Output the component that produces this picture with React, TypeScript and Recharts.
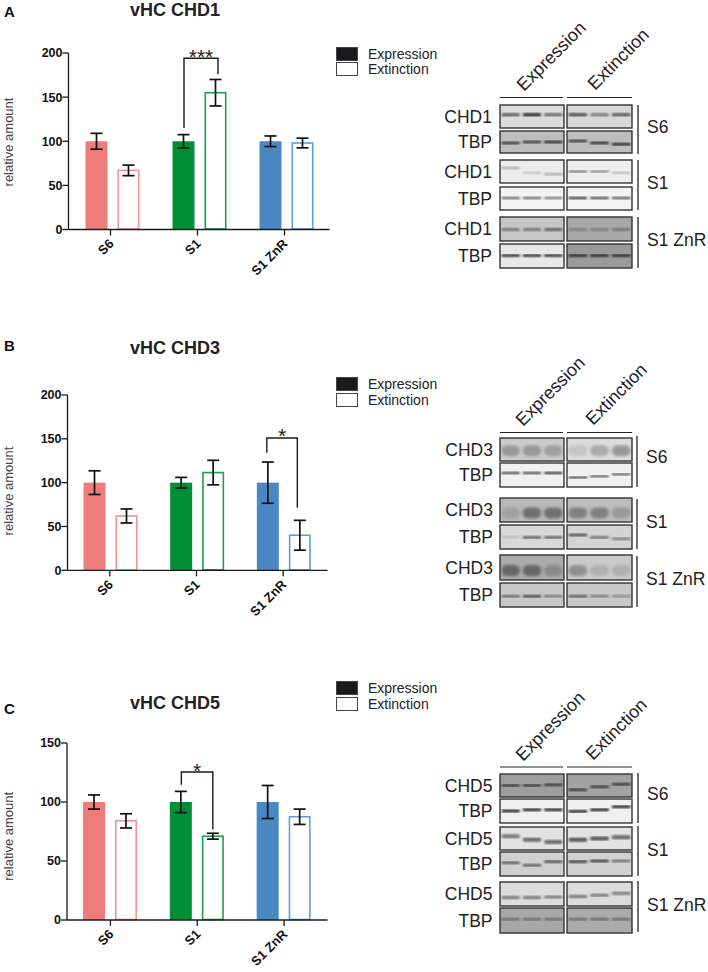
import React from 'react';
import { BarChart, Bar, XAxis, YAxis, ErrorBar, Legend } from 'recharts';

const categories = ['S6', 'S1', 'S1 ZnR'];
const seriesNames = ['Expression', 'Extinction'];

const chd1Expression = [100, 100, 100];
const chd1ExpressionErr = [9, 7.5, 6];
const chd1Extinction = [67, 155, 98];
const chd1ExtinctionErr = [6, 15, 5.5];

const chd3Expression = [100, 100, 100];
const chd3ExpressionErr = [13.5, 6, 23.5];
const chd3Extinction = [62, 111.5, 40];
const chd3ExtinctionErr = [8, 14, 17];

const chd5Expression = [100, 100, 100];
const chd5ExpressionErr = [6, 9, 14];
const chd5Extinction = [84, 71, 87.5];
const chd5ExtinctionErr = [6, 2.5, 6.5];

const ticks200 = [0, 50, 100, 150, 200];
const ticks150 = [0, 50, 100, 150];

const solidColors = ['#ee7c7b', '#008f37', '#4a88c4'];
const outlineColors = ['#ee9492', '#1f9e50', '#5f9fd5'];
const FONT = '"Liberation Sans", Arial, sans-serif';
const INK = '#1a1a1a';

// one bracket per chart: category, top of bracket, end of left leg, end of right leg
const panels = [
  {
    letter: 'A', title: 'vHC CHD1', letterY: 12, titleY: 10,
    expression: chd1Expression, expressionErr: chd1ExpressionErr,
    extinction: chd1Extinction, extinctionErr: chd1ExtinctionErr,
    max: 200, ticks: ticks200,
    plotTop: 53, plotHeight: 176.5, plotLeft: 68.5, plotRight: 329.5, tickShift: -1.5,
    labelY: 142, legendTop: 46,
    bracket: { index: 1, top: 194, left: 115, right: 176, stars: '***', legs: [0.5, 2.5] },
  },
  {
    letter: 'B', title: 'vHC CHD3', letterY: 346, titleY: 347.5,
    expression: chd3Expression, expressionErr: chd3ExpressionErr,
    extinction: chd3Extinction, extinctionErr: chd3ExtinctionErr,
    max: 200, ticks: ticks200,
    plotTop: 395, plotHeight: 175.3, plotLeft: 67.5, plotRight: 327.5, tickShift: -1,
    labelY: 491, legendTop: 376.5,
    bracket: { index: 2, top: 151, left: 134, right: 71.5, stars: '*', legs: [-1, -2.5] },
  },
  {
    letter: 'C', title: 'vHC CHD5', letterY: 709, titleY: 702.5,
    expression: chd5Expression, expressionErr: chd5ExpressionErr,
    extinction: chd5Extinction, extinctionErr: chd5ExtinctionErr,
    max: 150, ticks: ticks150,
    plotTop: 742.7, plotHeight: 177, plotLeft: 67, plotRight: 327.5, tickShift: 0,
    labelY: 836, legendTop: 680.5,
    bracket: { index: 1, top: 125.4, left: 114.7, right: 76.6, stars: '*', legs: [0.5, 0] },
  },
];

const CHART_WIDTH = 450;
const MARGIN_TOP = 70;
const X_AXIS_HEIGHT = 60;

function SolidBar(props: any) {
  const { x, y, width, height, index } = props;
  return <rect x={x} y={y} width={width} height={height} fill={solidColors[index]} />;
}

function makeHollowBar(panel: any) {
  return function HollowBar(props: any) {
    const { x, y, width, height, index, payload } = props;
    const b = panel.bracket;
    const base = y + height;
    const perUnit = height / payload.extinction;
    const rightX = x + width / 2 + b.legs[1];
    const leftX = x + width / 2 - 32 + b.legs[0];
    return (
      <g>
        <rect
          x={x + 0.8}
          y={y}
          width={width - 1.6}
          height={height - 0.5}
          fill="#fff"
          stroke={outlineColors[index]}
          strokeWidth={1.6}
        />
        {index === b.index && (
          <g>
            <path
              d={`M${leftX} ${base - b.left * perUnit}V${base - b.top * perUnit}H${rightX}V${base - b.right * perUnit}`}
              fill="none"
              stroke={INK}
              strokeWidth={1.4}
            />
            <text
              x={(leftX + rightX) / 2}
              y={base - b.top * perUnit + 5.5}
              textAnchor="middle"
              fontFamily={FONT}
              fontSize={21}
              fill="#222"
            >
              {b.stars}
            </text>
          </g>
        )}
      </g>
    );
  };
}

function CategoryTick(props: any) {
  const { x, y, payload, shift } = props;
  const tx = x + shift;
  return (
    <g>
      <line x1={tx} x2={tx} y1={y} y2={y + 6} stroke={INK} strokeWidth={1.3} />
      <text
        transform={`translate(${tx + 4} ${y + 15}) rotate(-45)`}
        textAnchor="end"
        fontFamily={FONT}
        fontWeight="bold"
        fontSize={13}
        fill="#111"
      >
        {payload.value}
      </text>
    </g>
  );
}

function LegendBox({ payload }: any) {
  return (
    <div style={{ fontFamily: FONT, fontSize: 14, color: '#222' }}>
      {(payload || []).map((entry: any, i: number) => (
        <div key={entry.value} style={{ display: 'flex', alignItems: 'center', height: 15.5 }}>
          <span
            style={{
              width: 22,
              height: 14,
              boxSizing: 'border-box',
              border: '1.3px solid #444',
              background: i === 0 ? '#1a1a1e' : '#fff',
              marginRight: 10,
            }}
          />
          <span>{entry.value}</span>
        </div>
      ))}
    </div>
  );
}

function PanelChart({ panel }: any) {
  const data = categories.map((category, i) => ({
    category,
    expression: panel.expression[i],
    expressionErr: panel.expressionErr[i],
    extinction: panel.extinction[i],
    extinctionErr: panel.extinctionErr[i],
  }));
  const top = panel.plotTop - MARGIN_TOP;
  const HollowBar = makeHollowBar(panel);
  return (
    <div style={{ position: 'absolute', left: 0, top }}>
      <BarChart
        width={CHART_WIDTH}
        height={MARGIN_TOP + panel.plotHeight + X_AXIS_HEIGHT}
        data={data}
        margin={{ top: MARGIN_TOP, right: CHART_WIDTH - panel.plotRight, bottom: 0, left: 0 }}
        barSize={22}
        barGap={10}
      >
        <XAxis
          dataKey="category"
          height={X_AXIS_HEIGHT}
          interval={0}
          tickSize={0}
          tickMargin={0}
          tickLine={false}
          axisLine={{ stroke: INK, strokeWidth: 1.3 }}
          tick={<CategoryTick shift={panel.tickShift} />}
        />
        <YAxis
          width={panel.plotLeft}
          domain={[0, panel.max]}
          ticks={panel.ticks}
          interval={0}
          tickSize={6}
          tickMargin={0}
          stroke={INK}
          strokeWidth={1.3}
          tick={{ fontFamily: FONT, fontWeight: 'bold', fontSize: 12.5, fill: '#111' }}
          label={{
            value: 'relative amount',
            angle: -90,
            position: 'center',
            dx: 8 - panel.plotLeft / 2,
            dy: panel.labelY - (panel.plotTop + panel.plotHeight / 2),
            style: { fontFamily: FONT, fontSize: 13, fill: '#444' },
          }}
        />
        <Legend
          layout="horizontal"
          verticalAlign="middle"
          align="center"
          content={<LegendBox />}
          wrapperStyle={{ left: 336, top: panel.legendTop - top, width: 110 }}
        />
        <Bar dataKey="expression" name={seriesNames[0]} fill="#1a1a1e" shape={SolidBar} isAnimationActive={false}>
          <ErrorBar dataKey="expressionErr" width={6} stroke="#111" strokeWidth={1.7} isAnimationActive={false} />
        </Bar>
        <Bar dataKey="extinction" name={seriesNames[1]} fill="#fff" shape={HollowBar} isAnimationActive={false}>
          <ErrorBar dataKey="extinctionErr" width={6} stroke="#111" strokeWidth={1.7} isAnimationActive={false} />
        </Bar>
      </BarChart>
    </div>
  );
}

// western blot strips: label, top, bottom, left bg, right bg, band colours, band level, band thickness
type BlotRow = [string, number, number, string, string, string[], number | number[], number];

const blotA: BlotRow[] = [
  ['CHD1', 105, 128, '#dcdcdc', '#d8d8d8', ['#555', '#222', '#666', '#444', '#777', '#555'], 0.42, 3],
  ['TBP', 131, 153, '#bdbdbd', '#bdbdbd', ['#333', '#333', '#222', '#333', '#222', '#222'], [0.55, 0.5, 0.5, 0.45, 0.55, 0.6], 2.5],
  ['CHD1', 160, 183, '#ececec', '#eeeeee', ['#aaa', '#c8c8c8', '#aaa', '#777', '#888', '#bbb'], [0.35, 0.55, 0.62, 0.5, 0.5, 0.55], 2.5],
  ['TBP', 187, 210, '#f3f3f3', '#f3f3f3', ['#555', '#555', '#666', '#222', '#333', '#444'], 0.48, 2],
  ['CHD1', 217, 241, '#c6c6c6', '#a8a8a8', ['#777', '#777', '#666', '#808080', '#808080', '#777'], 0.52, 3],
  ['TBP', 244, 268, '#e8e8e8', '#9a9a9a', ['#222', '#222', '#222', '#222', '#222', '#222'], 0.48, 2.5],
];
const blotB: BlotRow[] = [
  ['CHD3', 438, 461, '#cbcbcb', '#dcdcdc', ['#999', '#999', '#a0a0a0', '#c4c4c4', '#aaa', '#999'], 0.55, 11],
  ['TBP', 463, 487, '#f0f0f0', '#f0f0f0', ['#333', '#333', '#222', '#333', '#444', '#444'], [0.42, 0.42, 0.42, 0.6, 0.55, 0.47], 2],
  ['CHD3', 498, 522, '#b8b8b8', '#bdbdbd', ['#a0a0a0', '#707070', '#707070', '#808080', '#808080', '#999'], 0.62, 11],
  ['TBP', 525, 549, '#d8d8d8', '#d4d4d4', ['#bbb', '#555', '#555', '#444', '#666', '#777'], [0.5, 0.52, 0.52, 0.42, 0.52, 0.57], 2.5],
  ['CHD3', 555, 580, '#ababab', '#cacaca', ['#666', '#666', '#8a8a8a', '#909090', '#b0b0b0', '#b0b0b0'], 0.62, 11],
  ['TBP', 583, 607, '#c8c8c8', '#c8c8c8', ['#666', '#444', '#777', '#555', '#777', '#888'], 0.55, 2.5],
];
const blotC: BlotRow[] = [
  ['CHD5', 774, 797, '#9e9e9e', '#a2a2a2', ['#333', '#333', '#333', '#333', '#333', '#333'], [0.5, 0.5, 0.47, 0.68, 0.55, 0.45], 2.5],
  ['TBP', 799, 823, '#f0f0f0', '#f0f0f0', ['#111', '#111', '#111', '#111', '#111', '#111'], [0.5, 0.45, 0.45, 0.52, 0.45, 0.32], 2.5],
  ['CHD5', 827, 850, '#e2e2e2', '#e2e2e2', ['#777', '#666', '#666', '#555', '#555', '#666'], [0.4, 0.55, 0.65, 0.55, 0.5, 0.45], 4],
  ['TBP', 852, 876, '#d0d0d0', '#d0d0d0', ['#555', '#555', '#444', '#333', '#333', '#666'], [0.45, 0.55, 0.4, 0.4, 0.38, 0.38], 2.5],
  ['CHD5', 882, 906, '#dcdcdc', '#dcdcdc', ['#777', '#777', '#777', '#777', '#777', '#777'], [0.65, 0.65, 0.62, 0.6, 0.55, 0.47], 3],
  ['TBP', 908, 933, '#a8a8a8', '#ababab', ['#666', '#666', '#666', '#666', '#666', '#666'], 0.45, 2.5],
];

const blotSets = [
  { rows: blotA, rule: 97.5, x: 638, side: [126.5, 183, 240], sideX: 647, right: 492, heads: [[524, 92], [595, 91]], bars: [[105, 154], [160, 210], [217, 268]] },
  { rows: blotB, rule: 432.5, x: 637, side: [457, 522, 579], sideX: 646, right: 493, heads: [[523, 427], [593, 426]], bars: [[436, 487], [499, 549], [556, 607]] },
  { rows: blotC, rule: 767, x: 638, side: [794, 850, 905], sideX: 647, right: 492.5, heads: [[523, 762], [593, 761]], bars: [[773, 823], [826, 876], [881, 932]] },
];
const sideLabels = ['S6', 'S1', 'S1 ZnR'];

const LEFT_BOX = [500, 64];
const RIGHT_BOX = [567, 65];

function Blots() {
  return (
    <svg width={708} height={972} style={{ position: 'absolute', left: 0, top: 0 }} fontFamily={FONT} fill="#222">
      <defs>
        <filter id="band"><feGaussianBlur stdDeviation="0.8" /></filter>
        <filter id="smear"><feGaussianBlur stdDeviation="1.5" /></filter>
      </defs>
      {blotSets.map((set, s) => (
        <g key={s}>
          {seriesNames.map((name, i) => (
            <text key={name} fontSize={18} transform={`translate(${set.heads[i][0]} ${set.heads[i][1]}) rotate(-45)`}>
              {name}
            </text>
          ))}
          <line x1={500} x2={563} y1={set.rule} y2={set.rule} stroke="#222" strokeWidth={1} />
          <line x1={567} x2={632} y1={set.rule} y2={set.rule} stroke="#222" strokeWidth={1} />
          {set.bars.map((b, i) => (
            <line key={i} x1={set.x} x2={set.x} y1={b[0]} y2={b[1]} stroke="#222" strokeWidth={1.3} />
          ))}
          {sideLabels.map((label, i) => (
            <text key={i} x={set.sideX} y={set.side[i] + 6} fontSize={17.5}>{label}</text>
          ))}
          {set.rows.map((row, r) => {
            const [label, y0, y1, bgL, bgR, inks, level, thick] = row;
            const h = y1 - y0;
            return (
              <g key={r}>
                <text x={set.right} y={(y0 + y1) / 2 + 6} fontSize={17.5} textAnchor="end">{label}</text>
                {[LEFT_BOX, RIGHT_BOX].map((box, b) => (
                  <g key={b}>
                    <clipPath id={`clip-${s}-${r}-${b}`}>
                      <rect x={box[0]} y={y0} width={box[1]} height={h} />
                    </clipPath>
                    <rect x={box[0]} y={y0} width={box[1]} height={h} fill={b === 0 ? bgL : bgR} />
                    <g clipPath={`url(#clip-${s}-${r}-${b})`}>
                      {[0, 1, 2].map((lane) => {
                        const k = b * 3 + lane;
                        const lv = Array.isArray(level) ? level[k] : level;
                        const cx = box[0] + (box[1] * (lane + 0.5)) / 3;
                        const w = box[1] * 0.29;
                        return (
                          <rect
                            key={lane}
                            x={cx - w / 2}
                            y={y0 + h * lv - thick / 2}
                            width={w}
                            height={thick}
                            rx={thick / 2}
                            fill={inks[k]}
                            filter={thick > 6 ? 'url(#smear)' : 'url(#band)'}
                          />
                        );
                      })}
                    </g>
                    <rect x={box[0]} y={y0} width={box[1]} height={h} fill="none" stroke="#333" strokeWidth={1.4} />
                  </g>
                ))}
              </g>
            );
          })}
        </g>
      ))}
    </svg>
  );
}

export default function App() {
  return (
    <div style={{ position: 'absolute', left: 0, top: 0, width: 708, height: 972, overflow: 'hidden', background: '#fff' }}>
      <Blots />
      {panels.map((panel) => (
        <React.Fragment key={panel.letter}>
          <div style={{ position: 'absolute', left: 4, top: panel.letterY - 10, lineHeight: '20px', fontFamily: FONT, fontWeight: 'bold', fontSize: 15, color: '#111' }}>
            {panel.letter}
          </div>
          <div style={{ position: 'absolute', left: 130, top: panel.titleY - 11, lineHeight: '22px', fontFamily: FONT, fontWeight: 'bold', fontSize: 18, color: '#222' }}>
            {panel.title}
          </div>
          <PanelChart panel={panel} />
        </React.Fragment>
      ))}
    </div>
  );
}
